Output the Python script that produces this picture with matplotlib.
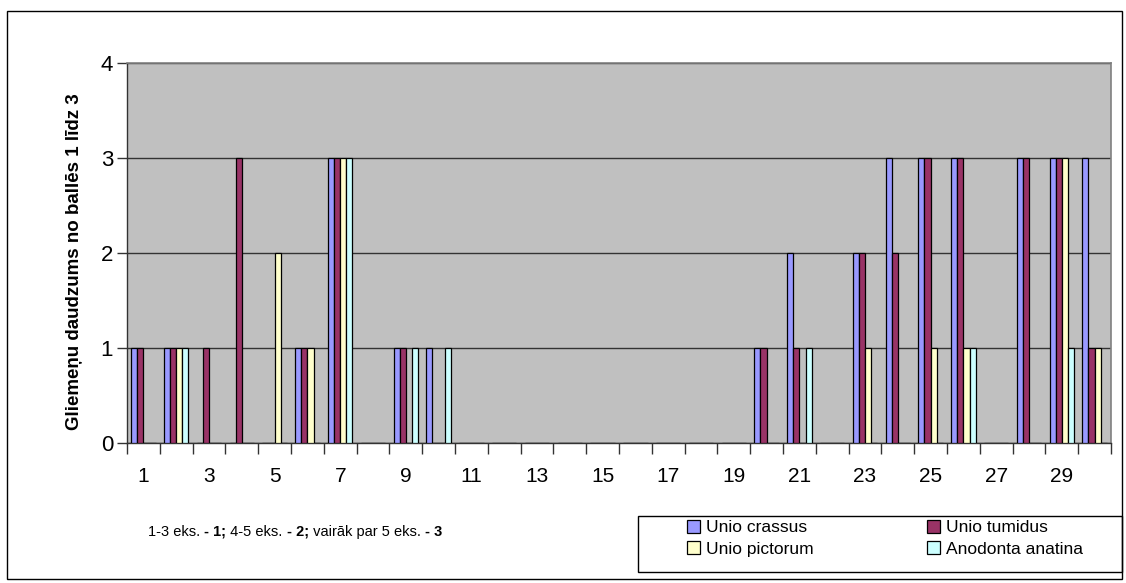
import numpy as np
import matplotlib.pyplot as plt
from matplotlib.patches import Rectangle

plt.rcParams['font.family'] = ['Liberation Sans', 'DejaVu Sans']

# upes posmi 1..30
kategorijas = np.arange(1, 31)

unio_crassus = [1, 1, 0, 0, 0, 1, 3, 0, 1, 1, 0, 0, 0, 0, 0,
                0, 0, 0, 0, 1, 2, 0, 2, 3, 3, 3, 0, 3, 3, 3]
unio_tumidus = [1, 1, 1, 3, 0, 1, 3, 0, 1, 0, 0, 0, 0, 0, 0,
                0, 0, 0, 0, 1, 1, 0, 2, 2, 3, 3, 0, 3, 3, 1]
unio_pictorum = [0, 1, 0, 0, 2, 1, 3, 0, 0, 0, 0, 0, 0, 0, 0,
                 0, 0, 0, 0, 0, 0, 0, 1, 0, 1, 1, 0, 0, 3, 1]
anodonta_anatina = [0, 1, 0, 0, 0, 0, 3, 0, 1, 1, 0, 0, 0, 0, 0,
                    0, 0, 0, 0, 0, 1, 0, 0, 0, 0, 1, 0, 0, 1, 0]

sugas = ['Unio crassus', 'Unio tumidus', 'Unio pictorum', 'Anodonta anatina']
krasas = ['#9999FF', '#993366', '#FFFFCC', '#CCFFFF']

fig = plt.figure(figsize=(11.26, 5.83), dpi=100)
W, H = 1126, 583
# diagrammas laukums pikseļos: x 127..1111, y 63..443
ax = fig.add_axes([127 / W, 1 - 443 / H, 984 / W, 380 / H])
ax.set_facecolor('#C0C0C0')

bw = 0.186
dati = [unio_crassus, unio_tumidus, unio_pictorum, anodonta_anatina]
stabi = []
for k, (vert, c, nos) in enumerate(zip(dati, krasas, sugas)):
    x = kategorijas + (k - 1.5) * bw
    stabi.append(ax.bar(x, vert, width=bw, color=c, edgecolor='black',
                        linewidth=0.9, label=nos, zorder=3))

ax.set_xlim(0.5, 30.5)
ax.set_ylim(0, 4)
ax.set_yticks([0, 1, 2, 3, 4])
ax.yaxis.grid(True, color='#333333', linewidth=1.0, zorder=1)
ax.set_axisbelow(True)

ax.set_xticks(np.arange(0.5, 31, 1), minor=False)
ax.set_xticklabels([])
ax.set_xticks(kategorijas[::2], minor=True)
ax.set_xticklabels([str(v) for v in kategorijas[::2]], minor=True, fontsize=15)
ax.tick_params(axis='x', which='minor', length=0, pad=17)
ax.tick_params(axis='x', which='major', length=8, width=1, color='#333333')
ax.tick_params(axis='y', length=7, width=1, color='#333333', labelsize=16, pad=3)

for s in ['top', 'right']:
    ax.spines[s].set_color('#808080')
    ax.spines[s].set_linewidth(1.2)
for s in ['left', 'bottom']:
    ax.spines[s].set_color('#333333')
    ax.spines[s].set_linewidth(1.0)

fig.text(75 / W, 1 - 262 / H, 'Gliemeņu daudzums no ballēs 1 līdz 3',
         rotation=90, ha='center', va='center', fontsize=13.5, fontweight='bold')

# leģenda: rāmis atsevišķi, ieraksti pa rindām
fig.patches.append(Rectangle((638 / W, 1 - 572 / H), 484 / W, 56 / H,
                             transform=fig.transFigure, fill=False,
                             edgecolor='black', linewidth=1.0))
kartiba = [0, 2, 1, 3]
leg = fig.legend([stabi[i] for i in kartiba], [sugas[i] for i in kartiba],
                 loc='upper left', bbox_to_anchor=(687 / W, 1 - 520 / H),
                 ncol=2, fontsize=12.5, frameon=False,
                 handlelength=0.75, handleheight=0.75, handletextpad=0.35,
                 borderpad=0, labelspacing=0.35, columnspacing=6.5,
                 borderaxespad=0)

# piezīme ar jaukta biezuma tekstu
daļas = [('1-3 eks. ', 'normal'), ('- 1;', 'bold'), (' 4-5 eks. ', 'normal'),
         ('- 2;', 'bold'), (' vairāk par 5 eks. ', 'normal'), ('- 3', 'bold')]
fig.canvas.draw()
r = fig.canvas.get_renderer()
xp = 148
for teksts, svars in daļas:
    t = fig.text(xp / W, 1 - 532 / H, teksts, fontsize=10.5, fontweight=svars,
                 ha='left', va='center')
    xp += t.get_window_extent(r).width

# ārējais rāmis
fig.patches.append(Rectangle((7 / W, 1 - 579 / H), 1115 / W, 568 / H,
                             transform=fig.transFigure, fill=False,
                             edgecolor='black', linewidth=1.0))

fig.savefig('out.png', dpi=100)
